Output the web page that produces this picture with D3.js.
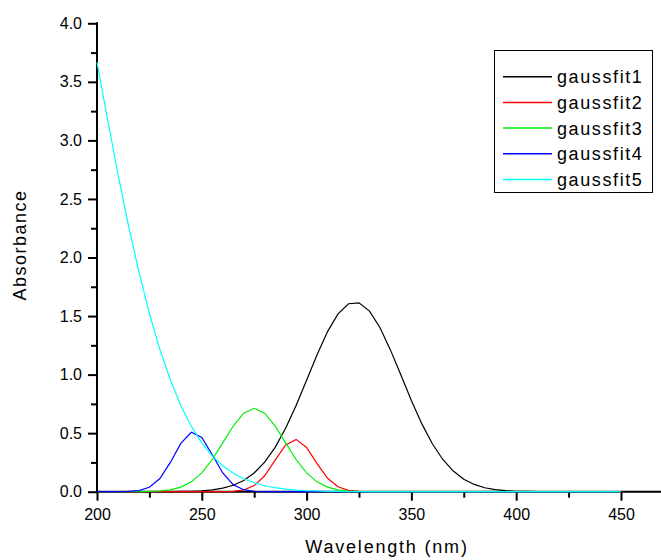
<!DOCTYPE html>
<html>
<head>
<meta charset="utf-8">
<script src="https://cdn.jsdelivr.net/npm/d3@7"></script>
<style>
  body { margin: 0; background: #fff; }
  svg { display: block; font-family: "Liberation Sans", Arial, sans-serif; }
</style>
</head>
<body>
<div id="chart"></div>
<script>
// wavelength grid (nm) shared by all fitted curves
var wavelengths = [200, 205, 210, 215, 220, 225, 230, 235, 240, 245,
  250, 255, 260, 265, 270, 275, 280, 285, 290, 295,
  300, 305, 310, 315, 320, 325, 330, 335, 340, 345,
  350, 355, 360, 365, 370, 375, 380, 385, 390, 395,
  400, 405, 410, 415, 420, 425, 430, 435, 440, 445, 450];

var gaussfit1 = [0, 0, 0, 0, 0, 0, 0, 0, 0.002, 0.004,
  0.008, 0.016, 0.030, 0.055, 0.096, 0.160, 0.252, 0.379, 0.542, 0.737,
  0.952, 1.170, 1.367, 1.519, 1.605, 1.613, 1.542, 1.402, 1.211, 0.996,
  0.778, 0.579, 0.409, 0.275, 0.176, 0.107, 0.062, 0.034, 0.018, 0.009,
  0.004, 0.002, 0, 0, 0, 0, 0, 0, 0, 0, 0];

var gaussfit2 = [0, 0, 0, 0, 0, 0, 0, 0, 0, 0,
  0, 0, 0, 0.003, 0.015, 0.052, 0.136, 0.269, 0.399, 0.447,
  0.378, 0.240, 0.115, 0.042, 0.011, 0.002, 0, 0, 0, 0,
  0, 0, 0, 0, 0, 0, 0, 0, 0, 0,
  0, 0, 0, 0, 0, 0, 0, 0, 0, 0, 0];

var gaussfit3 = [0, 0, 0, 0, 0, 0.002, 0.006, 0.016, 0.039, 0.084,
  0.161, 0.275, 0.417, 0.561, 0.671, 0.712, 0.671, 0.561, 0.417, 0.275,
  0.161, 0.084, 0.039, 0.016, 0.006, 0.002, 0, 0, 0, 0,
  0, 0, 0, 0, 0, 0, 0, 0, 0, 0,
  0, 0, 0, 0, 0, 0, 0, 0, 0, 0, 0];

var gaussfit4 = [0, 0, 0, 0.002, 0.009, 0.038, 0.112, 0.250, 0.412, 0.507,
  0.464, 0.316, 0.160, 0.060, 0.017, 0.004, 0.001, 0, 0, 0,
  0, 0, 0, 0, 0, 0, 0, 0, 0, 0,
  0, 0, 0, 0, 0, 0, 0, 0, 0, 0,
  0, 0, 0, 0, 0, 0, 0, 0, 0, 0, 0];

var gaussfit5 = [3.669, 3.181, 2.713, 2.275, 1.877, 1.523, 1.215, 0.954, 0.736, 0.559,
  0.417, 0.306, 0.221, 0.157, 0.110, 0.076, 0.051, 0.034, 0.022, 0.014,
  0.009, 0.006, 0.003, 0.002, 0.001, 0, 0, 0, 0, 0,
  0, 0, 0, 0, 0, 0, 0, 0, 0, 0,
  0, 0, 0, 0, 0, 0, 0, 0, 0, 0, 0];

var seriesNames = ["gaussfit1", "gaussfit2", "gaussfit3", "gaussfit4", "gaussfit5"];
var seriesValues = [gaussfit1, gaussfit2, gaussfit3, gaussfit4, gaussfit5];
var seriesColors = ["#000000", "#ff0000", "#00ee00", "#0000ff", "#00ffff"];

var xTicks = [200, 250, 300, 350, 400, 450];
var yTicks = [0, 0.5, 1.0, 1.5, 2.0, 2.5, 3.0, 3.5, 4.0];

var svgWidth = 661;
var svgHeight = 560;

var svg = d3.select("#chart")
  .append("svg")
  .attr("width", svgWidth)
  .attr("height", svgHeight);

// scales
var xScale = d3.scaleLinear().domain([200, 469.1]).range([97, 661]);
var yScale = d3.scaleLinear().domain([0, 4]).range([491.7, 23.3]);

// x axis: minor ticks, then major ticks with labels, then the line itself
var xAxis = svg.append("g")
  .attr("transform", "translate(0, 491.7)");

xAxis.call(d3.axisBottom(xScale)
    .tickValues(d3.range(225, 470, 50))
    .tickSize(6)
    .tickFormat(""))
  .call(g => g.select(".domain").remove());

xAxis.append("g").call(d3.axisBottom(xScale)
    .tickValues(xTicks)
    .tickSize(9)
    .tickPadding(8)
    .tickFormat(d3.format("d")))
  .call(g => g.select(".domain").remove())
  .selectAll("text")
  .attr("font-size", 16)
  .attr("font-family", "Liberation Sans, Arial, sans-serif")
  .attr("fill", "#000");

xAxis.append("line")
  .attr("x1", xScale(200) - 1)
  .attr("x2", 661)
  .attr("stroke", "#000")
  .attr("stroke-width", 2);

// y axis
var yAxis = svg.append("g")
  .attr("transform", "translate(97, 0)");

yAxis.call(d3.axisLeft(yScale)
    .tickValues(d3.range(0.25, 4, 0.5))
    .tickSize(6)
    .tickFormat(""))
  .call(g => g.select(".domain").remove());

yAxis.append("g").call(d3.axisLeft(yScale)
    .tickValues(yTicks)
    .tickSize(9)
    .tickPadding(6)
    .tickFormat(d3.format(".1f")))
  .call(g => g.select(".domain").remove())
  .selectAll("text")
  .attr("font-size", 16)
  .attr("font-family", "Liberation Sans, Arial, sans-serif")
  .attr("fill", "#000");

yAxis.append("line")
  .attr("y1", yScale(4) - 1)
  .attr("y2", yScale(0) + 1)
  .attr("stroke", "#000")
  .attr("stroke-width", 2);

svg.selectAll(".tick line")
  .attr("stroke", "#000")
  .attr("stroke-width", 2);

// axis titles
svg.append("text")
  .attr("x", 387)
  .attr("y", 553)
  .attr("text-anchor", "middle")
  .attr("font-size", 18)
  .attr("letter-spacing", 1.8)
  .text("Wavelength (nm)");

svg.append("text")
  .attr("transform", "translate(26, 245) rotate(-90)")
  .attr("text-anchor", "middle")
  .attr("font-size", 18)
  .attr("letter-spacing", 1.5)
  .text("Absorbance");

// curves
var line = d3.line()
  .x((d, i) => xScale(wavelengths[i]))
  .y(d => yScale(d));

svg.selectAll(".curve")
  .data(seriesValues)
  .enter()
  .append("path")
  .attr("class", "curve")
  .attr("d", line)
  .attr("fill", "none")
  .attr("stroke", (d, i) => seriesColors[i])
  .attr("stroke-width", 1.2);

// legend
var legend = svg.append("g");

legend.append("rect")
  .attr("x", 494.5)
  .attr("y", 50.5)
  .attr("width", 158)
  .attr("height", 142)
  .attr("fill", "#fff")
  .attr("stroke", "#000")
  .attr("stroke-width", 1);

var rows = legend.selectAll(".row")
  .data(seriesNames)
  .enter()
  .append("g")
  .attr("transform", (d, i) => `translate(0, ${76.7 + i * 25.7})`);

rows.append("line")
  .attr("x1", 503)
  .attr("x2", 552)
  .attr("stroke", (d, i) => seriesColors[i])
  .attr("stroke-width", 1.5);

rows.append("text")
  .attr("x", 557)
  .attr("y", 6.5)
  .attr("font-size", 18)
  .attr("letter-spacing", 1.6)
  .text(d => d);
</script>
</body>
</html>
